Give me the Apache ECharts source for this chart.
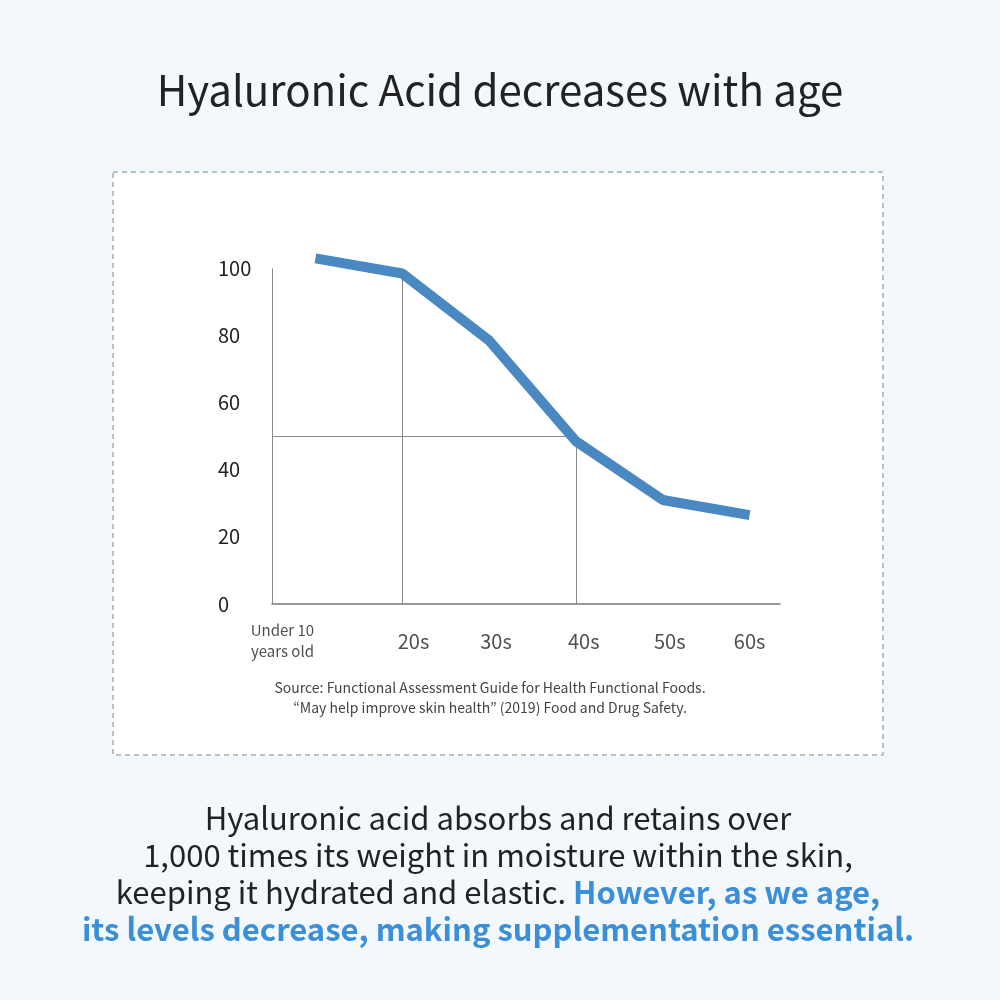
<!DOCTYPE html>
<html><head><meta charset="utf-8">
<script src="https://cdn.jsdelivr.net/npm/echarts@6/dist/echarts.min.js"></script>
<style>html,body{margin:0;background:#f3f8fc}#c{width:1000px;height:1000px}</style>
</head><body><div id="c"></div>
<script>
const xPos = [0, 1, 2, 3, 4, 5];
const values = [103, 98.5, 78.5, 48.5, 31, 26.5];
const tickLabels = ['Under 10\nyears old', '20s', '30s', '40s', '50s', '60s'];
const labelPos = [-0.38, 1.13, 2.08, 3.09, 4.08, 5];

const font = '"Noto Sans CJK KR", "Noto Sans", sans-serif';
const chart = echarts.init(document.getElementById('c'));
chart.setOption({
  backgroundColor: '#f3f8fc',
  textStyle: { fontFamily: font },
  graphic: [
    { type: 'rect', shape: { x: 113, y: 172, width: 770, height: 583 }, style: { fill: '#fff', stroke: '#aaa', lineWidth: 1.5, lineDash: [5, 4] }, z: -10 },
    { type: 'text', x: 500, y: 90, style: { text: 'Hyaluronic Acid decreases with age', fontSize: 42, fill: '#222', align: 'center', verticalAlign: 'middle', fontFamily: font } },
    { type: 'text', x: 490, y: 698, style: { text: 'Source: Functional Assessment Guide for Health Functional Foods.\n\u201cMay help improve skin health\u201d (2019) Food and Drug Safety.', fontSize: 14, lineHeight: 20, fill: '#444', align: 'center', verticalAlign: 'middle', fontFamily: font } },
    { type: 'text', x: 498, y: 874, style: {
      text: 'Hyaluronic acid absorbs and retains over\n1,000 times its weight in moisture within the skin,\nkeeping it hydrated and elastic. {b|However, as we age,}\n{b|its levels decrease, making supplementation essential.}',
      fontSize: 31, lineHeight: 37, fill: '#222', align: 'center', verticalAlign: 'middle', fontFamily: font,
      rich: { b: { fontSize: 31, fill: '#3a8fd8', fontWeight: 'bold', fontFamily: font } } } }
  ],
  grid: { left: 272, right: 220, top: 255, bottom: 396 },
  xAxis: { type: 'value', min: -0.5, max: 5.35, axisLine: { show: true, lineStyle: { color: '#777', width: 1.5 } }, axisLabel: { show: false }, axisTick: { show: false }, splitLine: { show: false } },
  yAxis: { type: 'value', min: 0, max: 104, interval: 20,
    axisLine: { show: false }, axisTick: { show: false }, splitLine: { show: false },
    axisLabel: { align: 'left', margin: 54, fontSize: 20, color: '#222', showMaxLabel: false } },
  series: [
    { type: 'line', data: xPos.map((x, i) => [x, values[i]]), showSymbol: false, clip: false,
      lineStyle: { color: '#4a88c2', width: 10 }, z: 5,
      markLine: { silent: true, symbol: 'none', label: { show: false }, lineStyle: { color: '#888', width: 1, type: 'solid' },
        data: [
          [{ coord: [-0.5, 0] }, { coord: [-0.5, 100] }],
          [{ coord: [1, 0] }, { coord: [1, values[1]] }],
          [{ coord: [3, 0] }, { coord: [3, values[3]] }],
          [{ coord: [-0.5, 50] }, { coord: [3, 50] }]
        ] } },
    { type: 'scatter', clip: false, symbolSize: 0, silent: true,
      data: labelPos.map((x, i) => ({ value: [x, -11], label: { fontSize: i === 0 ? 15 : 20 } })),
      label: { show: true, position: 'inside', color: '#222', lineHeight: 21, formatter: p => tickLabels[p.dataIndex] } }
  ]
});
</script></body></html>
